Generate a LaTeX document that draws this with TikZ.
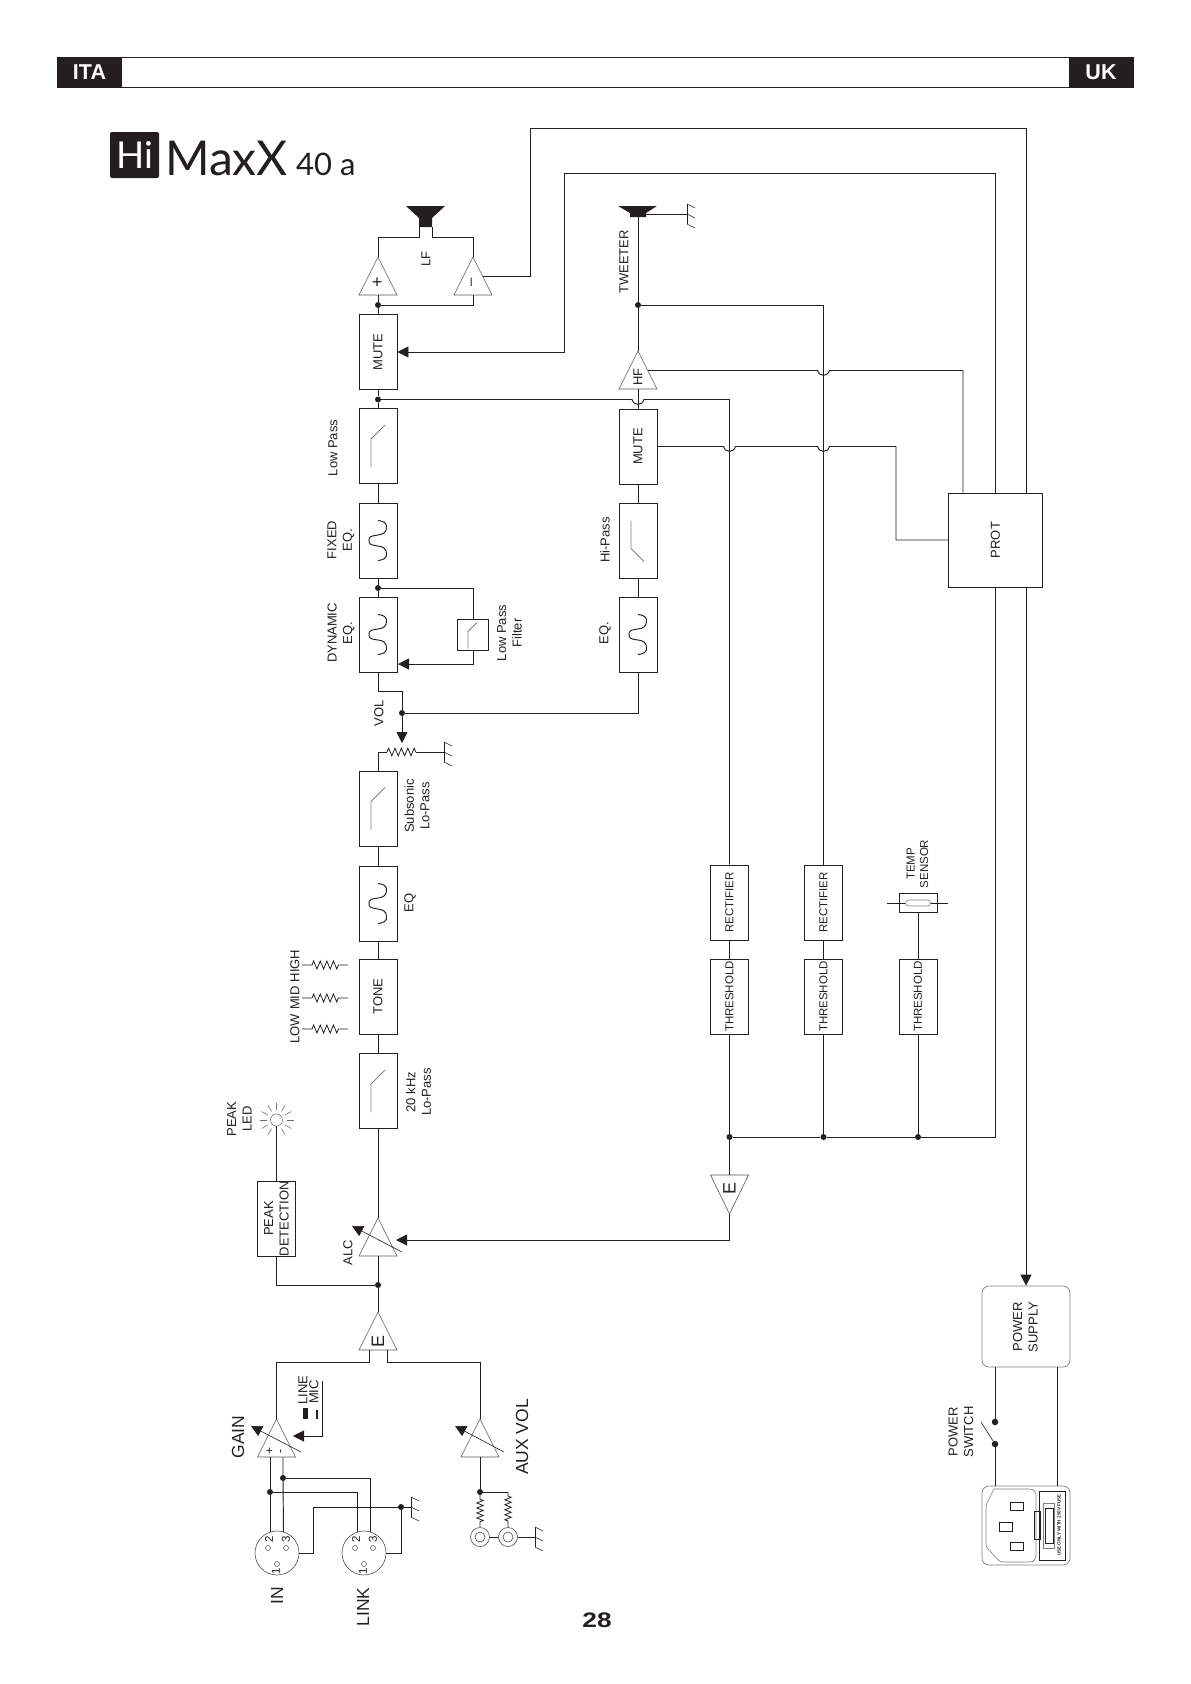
\documentclass[tikz,border=0pt]{standalone}
\usepackage{fontspec}
\setmainfont{Liberation Sans}
\newfontfamily\logofont{Lato}
\usetikzlibrary{arrows.meta,calc,decorations.pathmorphing}
\definecolor{ink}{HTML}{231F20}
\definecolor{soft}{HTML}{808080}
\tikzset{
  wire/.style={draw=ink,line width=.95pt},
  blk/.style={draw=ink,line width=.95pt,fill=white,inner sep=0pt,minimum width=38pt,minimum height=75pt},
  lbl/.style={rotate=90,align=center,inner sep=0pt,text=ink,font=\fontsize{13}{15.5}\selectfont},
  lbls/.style={lbl,font=\fontsize{11.5}{13.5}\selectfont},
  lblb/.style={lbl,font=\fontsize{17.5}{20}\selectfont},
  lblamp/.style={lbl,font=\fontsize{18}{18}\selectfont},
  tri/.style={draw=ink!75,line width=.6pt},
  sym/.style={draw=soft,line width=.8pt},
  slash/.style={draw=ink,line width=.6pt},
  arr/.style={-{Triangle[length=11pt,width=11pt]}},
  jdot/.style={circle,fill=ink,inner sep=0pt,minimum size=6pt},
  resist/.style={decorate,decoration={zigzag,segment length=6.4pt,amplitude=3.8pt}},
  resisttone/.style={decorate,decoration={zigzag,segment length=6.6pt,amplitude=4pt,pre length=10pt,post length=8pt}},
  resistaux/.style={decorate,decoration={zigzag,segment length=5pt,amplitude=3.2pt,pre length=4pt,post length=4pt}},
  pin/.style={circle,draw=ink!80,line width=.5pt,inner sep=0pt,minimum size=5pt},
  ring/.style={circle,draw=ink!80,line width=.6pt,inner sep=0pt}
}
% triangles: name, apex
\newcommand{\ampup}[2]{\coordinate (#1) at (#2); \coordinate (#1-base) at ($(#1)+(0,38)$);
  \draw[tri] (#1) -- ++(19,38) -- ++(-38,0) -- cycle;}
\newcommand{\ampdn}[2]{\coordinate (#1) at (#2); \coordinate (#1-base) at ($(#1)+(0,-39)$);
  \draw[tri] (#1) -- ++(19,-39) -- ++(-38,0) -- cycle;}
% filter marks inside a block
\newcommand{\lowmark}[1]{\draw[sym] ($(#1)+(-7,21)$) -- ($(#1)+(-7,-7)$) -- ($(#1)+(7,-21)$);}
\newcommand{\eqmark}[1]{\begin{scope}[shift={(#1.center)}]
  \draw[wire] plot[smooth,tension=.8] coordinates {(0,-20) (6.5,-18) (8.5,-13) (6,-7.5) (0,-5.5) (-7,-4) (-9,0) (-7,4) (0,5.5) (6,7.5) (8.5,13) (6.5,18) (0,20)};
\end{scope}}
\newcommand{\gnd}[2]{\coordinate (#1) at (#2); \draw[wire] ($(#1)+(0,-10)$) -- ($(#1)+(0,10)$);
  \foreach \d in {-10,0,10} \draw[slash] ($(#1)+(0,\d)$) -- ++(8,4);}
\newcommand{\xlr}[2]{\node[ring,minimum size=44pt] (#1) at (#2) {};
  \coordinate (#1-a) at ($(#1)+(-7,-21)$); \coordinate (#1-b) at ($(#1)+(6.5,-21)$);
  \node[pin] (#1-p2) at ($(#1)+(-9,-5)$) {}; \node[pin] (#1-p3) at ($(#1)+(9,-5)$) {}; \node[pin] (#1-p1) at ($(#1)+(0,11)$) {};
  \node[lbls] (#1-n2) at ($(#1)+(-8,-14)$) {2}; \node[lbls] (#1-n3) at ($(#1)+(9,-14)$) {3}; \node[lbls] (#1-n1) at ($(#1)+(-1,18)$) {1};}
\newcommand{\hop}[1]{-- ($(#1)+(-6,0)$) .. controls ($(#1)+(-4,6.5)$) and ($(#1)+(4,6.5)$) .. ($(#1)+(6,0)$)}
\begin{document}
\begin{tikzpicture}[x=1pt,y=-1pt]
    \useasboundingbox (0,0) rectangle (1191,1684);
    % Header
    \node[draw=ink,line width=1pt,minimum width=1076pt,minimum height=30pt,inner sep=0pt] (hdr) at (595.5,72) {};
    \node[fill=ink,text=white,minimum width=64pt,minimum height=31pt,inner sep=0pt,font=\fontsize{21.5}{21.5}\bfseries\selectfont] (ita) at (89.5,72.5) {ITA};
    \node[fill=ink,text=white,minimum width=64pt,minimum height=31pt,inner sep=0pt,font=\fontsize{21.5}{21.5}\bfseries\selectfont] (uk) at (1101,72.5) {UK};
    \node[font=\fontsize{21}{21}\bfseries\selectfont,text=ink,inner sep=0pt] (page) at (597,1620) {\scalebox{1.25}[1]{28}};
    % Logo
    \node[fill=ink,rounded corners=2pt,text=white,minimum width=49pt,minimum height=46pt,inner sep=0pt,font=\logofont\fontsize{37}{37}\selectfont] (hi) at (134.5,155) {Hi};
    \node[text=ink,inner sep=0pt,anchor=base west,font=\logofont\fontsize{48}{48}\selectfont] (maxx) at (165,175) {MaxX};
    \node[text=ink,inner sep=0pt,anchor=base west,font=\logofont\fontsize{31}{31}\selectfont] (model) at (296,175) {40 a};

    % Left chain blocks
    \node[blk] (mute) at (378,352) {}; \node[lbl] (tmute) at (mute) {MUTE};
    \node[blk] (lowpass) at (378,446) {}; \lowmark{lowpass}
    \node[blk] (fixedeq) at (378,540.5) {}; \eqmark{fixedeq}
    \node[blk] (dyneq) at (378,634.5) {}; \eqmark{dyneq}
    \node[blk] (subson) at (378,808.5) {}; \lowmark{subson}
    \node[blk] (eqa) at (378,903.5) {}; \eqmark{eqa}
    \node[blk] (tone) at (378,996.5) {}; \node[lbl] (ttone) at (tone) {TONE};
    \node[blk] (lopass) at (378,1091) {}; \lowmark{lopass}
    \node[blk,minimum width=31pt,minimum height=31pt] (dynlp) at (473,634.5) {};
    \draw[sym] ($(dynlp)+(-5,14)$) -- ($(dynlp)+(-5,-3)$) -- ($(dynlp)+(4,-12)$);
    % Right chain blocks
    \node[blk] (mutehf) at (638,446.5) {}; \node[lbl] (tmutehf) at (mutehf) {MUTE};
    \node[blk] (hipass) at (638,540.5) {};
    \draw[sym] ($(hipass)+(-7,-20)$) -- ($(hipass)+(-7,8)$) -- ($(hipass)+(6,21)$);
    \node[blk] (eqb) at (638,634.5) {}; \eqmark{eqb}
    % Protection chain blocks
    \foreach \nm/\xx in {a/729.5,b/823.5}{
      \node[blk] (rect\nm) at (\xx,902.5) {}; \node[lbls] (trect\nm) at (rect\nm) {RECTIFIER};
    }
    \foreach \nm/\xx in {a/729.5,b/823.5,c/918}{
      \node[blk] (thr\nm) at (\xx,996.5) {}; \node[lbls] (tthr\nm) at (thr\nm) {THRESHOLD};
    }
    \node[blk,minimum height=19pt] (temp) at (918,902.5) {};
    \node[circle,minimum size=1pt,inner sep=0pt] (templ) at (886,903) {}; \node[circle,minimum size=1pt,inner sep=0pt] (tempr) at (949,903) {};
    \draw[wire] (templ) -- (tempr);
    \node[draw=soft,fill=white,line width=.6pt,rounded corners=3pt,minimum width=25pt,minimum height=6pt,inner sep=0pt] (tempo) at (918,903) {};
    \node[blk,minimum height=75pt] (pk) at (276.5,1218.5) {};
    \node[lbl] (tpk) at (pk) {PEAK\\DETECTION};

    % Amplifier triangles
    \ampup{ampp}{378,257} \ampup{ampm}{473,257} \ampup{amphf}{638,351} \ampup{ampalc}{378,1218}
    \ampup{ampe}{378,1312} \ampup{ampgain}{276.5,1419} \ampup{ampaux}{480,1419} \ampdn{ampth}{729.5,1214}
    \node[lblamp] (tp) at (378,282) {+}; \node[lbl,font=\fontsize{15}{15}\selectfont] (tm) at (473,282) {–}; \node[lbl] (thf) at (638,377) {HF};
    \node[lblamp] (te) at (378,1341) {E}; \node[lblamp] (teb) at (729.5,1188) {E};
    \node[lbl,font=\fontsize{12}{12}\selectfont] (tgp) at (270,1451) {+}; \node[lbl,font=\fontsize{12}{12}\selectfont] (tgm) at (282,1451) {-};

    % Labels
    \node[lbl] (lbllf) at (426,259) {LF};
    \node[lbl] (lbltw) at (624,262) {TWEETER};
    \node[lbl] (lbllp) at (333,448) {Low Pass};
    \node[lbl] (lblfix) at (341,540) {FIXED\\EQ.};
    \node[lbl] (lbldyn) at (341,633) {DYNAMIC\\EQ.};
    \node[lbl] (lblflt) at (509.5,633) {Low Pass\\Filter};
    \node[lbl] (lblhi) at (605,540) {Hi-Pass};
    \node[lbl] (lbleqb) at (605,633) {EQ.};
    \node[lbl] (lblvol) at (379,713) {VOL};
    \node[lbl] (lblsub) at (417,806) {Subsonic\\Lo-Pass};
    \node[lbl] (lbleq) at (410,903) {EQ};
    \node[lbl] (lbl20k) at (418.5,1092) {20 kHz\\Lo-Pass};
    \node[lbl] (lblhigh) at (295,966) {HIGH}; \node[lbl] (lblmid) at (295,998) {MID}; \node[lbl] (lbllow) at (295,1029) {LOW};
    \node[lbl] (lblled) at (239.5,1119) {PEAK\\LED};
    \node[lbl] (lblalc) at (348,1253) {ALC};
    \node[lbls] (lbltemp) at (917.5,864) {TEMP\\SENSOR};
    \node[lbl] (lblline) at (303,1390) {LINE}; \node[lbl] (lblmic) at (314,1392) {MIC};
    \node[lblb] (lblgain) at (238,1437) {GAIN};
    \node[lblb] (lblin) at (277,1596) {IN};
    \node[lblb] (lbllink) at (363,1607) {LINK};
    \node[lblb] (lblaux) at (522,1437) {AUX VOL};
    \node[lbl] (lblsw) at (961,1432) {POWER\\SWITCH};

    % Speakers
    \fill[ink] (406,206) -- (445,206) -- (432,218) -- (432,227) -- (419,227) -- (419,218) -- cycle;
    \fill[ink] (618,206) -- (657,206) -- (646,213) -- (646,217) -- (630,217) -- (630,213) -- cycle;
    \coordinate (lfa) at (419,227); \coordinate (lfb) at (432,227);
    \coordinate (lfal) at (419,237); \coordinate (lfbl) at (432,237);
    \coordinate (twbot) at (638,217); \coordinate (twgnd) at (646,214);
    \gnd{gndtw}{687,214}
    \draw[wire] (twgnd) -- (gndtw);
    \draw[wire] (ampp) |- (lfal) -- (lfa);
    \draw[wire] (ampm) |- (lfbl) -- (lfb);
    \node[jdot] (jout) at (378,305) {};
    \draw[wire] (ampp-base) -- (jout) -- (mute.north);
    \draw[wire] (jout) -| (ampm-base);

    % Power supply, long line behind the protection block
    \node[draw=soft,fill=white,line width=.7pt,rounded corners=7pt,minimum width=88pt,minimum height=81pt,inner sep=0pt] (psu) at (1026,1326.5) {};
    \node[lbl] (lblpsu) at (1025.5,1327) {POWER\\SUPPLY};
    \coordinate (lfout) at (483,276); \coordinate (lfup) at (530,128); \coordinate (topa) at (1026,128);
    \draw[wire,arr] (lfout) -| (lfup) -- (topa) -- (psu.north);
    \node[blk,minimum width=94pt,minimum height=94pt] (prot) at (995.5,540) {}; \node[lbl] (tprot) at (prot) {PROT};
    \coordinate (mtop) at (564,173);
    \draw[wire,arr] (prot.north) |- (mtop) |- (mute.east);

    % Main signal path
    \node[jdot] (jmute) at (378,399.5) {};
    \node[jdot] (jfix) at (378,588) {};
    \node[jdot] (jvol) at (402,713) {};
    \coordinate (volbend) at (402,691); \coordinate (voltip) at (402,743); \coordinate (dynin) at (398,664);
    \draw[wire] (mute.south) -- (jmute) -- (lowpass.north);
    \draw[wire] (lowpass.south) -- (fixedeq.north);
    \draw[wire] (fixedeq.south) -- (jfix) -- (dyneq.north);
    \draw[wire] (jfix) -| (dynlp.north);
    \draw[wire,arr] (dynlp.south) |- (dynin);
    \draw[wire] (dyneq.south) |- (volbend) -- (jvol);
    \draw[wire,arr] (jvol) -- (voltip);
    \draw[wire] (jvol) -| (eqb.south);
    \coordinate (rva) at (387,752); \coordinate (rvb) at (416,752);
    \gnd{gndvol}{444,752}
    \draw[wire] (subson.north) |- (rva);
    \draw[wire,line width=.8pt,resist] (rva) -- (rvb);
    \draw[wire] (rvb) -- (gndvol);
    \draw[wire] (subson.south) -- (eqa.north);
    \draw[wire] (eqa.south) -- (tone.north);
    \draw[wire] (tone.south) -- (lopass.north);
    \draw[wire] (lopass.south) -- (ampalc);
    % Tone controls
    \foreach \nm/\yy in {high/965,mid/998,low/1029}{
      \coordinate (\nm a) at (302,\yy); \coordinate (\nm b) at (348,\yy);
      \draw[wire,line width=.8pt,resisttone] (\nm a) -- (\nm b);
    }
    % HF path
    \node[jdot] (jtw) at (638,305) {};
    \draw[wire] (twbot) -- (jtw) -- (amphf);
    \draw[wire] (amphf-base) -- (mutehf.north);
    \draw[wire] (mutehf.south) -- (hipass.north);
    \draw[wire] (hipass.south) -- (eqb.north);
    \coordinate (xa) at (729.5,399.5); \coordinate (xb) at (823.5,305);
    \coordinate (hopm) at (638,399.5); \coordinate (hopb) at (823.5,370.5); \coordinate (hopc) at (729.5,446.5); \coordinate (hopd) at (823.5,446.5);
    \coordinate (hfout) at (648,370.5); \coordinate (hfr) at (963,370.5); \coordinate (mtr) at (896,446.5); \coordinate (mtd) at (896,540);
    \draw[wire] (jmute) \hop{hopm} -- (xa) -- (recta.north);
    \draw[wire] (jtw) -| (rectb.north);
    \draw[wire] (hfout) \hop{hopb} -- (hfr) -- (hfr |- prot.north);
    \draw[wire] (mutehf.east) \hop{hopc} \hop{hopd} -- (mtr) -- (mtd) -- (prot.west);
    % Protection chain
    \draw[wire] (recta.south) -- (thra.north);
    \draw[wire] (rectb.south) -- (thrb.north);
    \draw[wire] (temp.south) -- (thrc.north);
    \node[jdot] (jtha) at (729.5,1137) {}; \node[jdot] (jthb) at (823.5,1137) {}; \node[jdot] (jthc) at (918,1137) {};
    \draw[wire] (thra.south) -- (jtha); \draw[wire] (thrb.south) -- (jthb); \draw[wire] (thrc.south) -- (jthc);
    \draw[wire] (prot.south) |- (jthc) -- (jthb) -- (jtha) -- (ampth-base);
    \coordinate (alcin) at (396,1240);
    \draw[wire,arr] (ampth) |- (alcin);
    \draw[slash,arr] (402,1252) -- (352,1226);

    % Peak detection
    \node[ring,draw=soft,minimum size=12pt] (led) at (276.5,1120) {};
    \foreach \a in {0,30,60,120,150,180,210,240,270,300,330} \draw[draw=ink!65,line width=.6pt] ($(led)+(\a:10)$) -- ($(led)+(\a:17)$);
    \draw[wire] (pk.north) -- (led.south);
    \node[jdot] (jpk) at (378,1285) {};
    \draw[wire] (ampalc-base) -- (jpk) -- (ampe);
    \draw[wire] (pk.south) |- (jpk);

    % Inputs
    \coordinate (ela) at (369,1350); \coordinate (elb) at (387,1350);
    \draw[wire] (ela) |- (ampgain |- 0,1362) -- (ampgain);
    \draw[wire] (elb) |- (ampaux |- 0,1362) -- (ampaux);
    \coordinate (sela) at (322,1381); \coordinate (selb) at (293,1436);
    \draw[wire,arr] (sela) |- (selb);
    \fill[ink] (303,1408) rectangle (307.5,1419); \fill[ink] (315.5,1410) rectangle (318,1419);
    \draw[slash,arr] (301,1452) -- (251,1426);
    \draw[slash,arr] (504,1452) -- (455,1426);
    \xlr{in}{277,1553} \xlr{link}{364,1553}
    \coordinate (gp) at (270,1457); \coordinate (gm) at (283,1457);
    \node[jdot] (jgm) at (283,1478) {}; \node[jdot] (jgp) at (270,1492) {};
    \draw[wire] (gp) -- (jgp) -- (in-a);
    \draw[wire] (gm) -- (jgm) -- (in-b);
    \draw[wire] (jgm) -| (link-b);
    \draw[wire] (jgp) -| (link-a);
    \coordinate (ingc) at (313,1507);
    \node[jdot] (jgnd) at (401,1507) {};
    \gnd{gndin}{411,1507}
    \draw[wire] (in.east) -| (ingc) -- (jgnd) -- (gndin);
    \draw[wire] (link.east) -| (jgnd);
    % Aux input
    \node[jdot] (jaux) at (480,1492) {};
    \draw[wire] (ampaux-base) -- (jaux);
    \node[ring,minimum size=19pt] (rcaa) at (480,1537) {}; \node[ring,minimum size=10pt] (rcaai) at (480,1537) {};
    \node[ring,minimum size=19pt] (rcab) at (508,1537) {}; \node[ring,minimum size=10pt] (rcabi) at (508,1537) {};
    \coordinate (auxt) at (508,1492);
    \gnd{gndaux}{535,1537}
    \draw[wire] (jaux) -- (auxt);
    \draw[wire,line width=.8pt,resistaux] (jaux) -- (rcaa.north);
    \draw[wire,line width=.8pt,resistaux] (auxt) -- (rcab.north);
    \draw[wire] (rcaa) -- (rcab) -- (gndaux);

    % Mains inlet
    \node[draw=soft,line width=.7pt,rounded corners=7pt,minimum width=88pt,minimum height=79pt,inner sep=0pt] (inlet) at (1026,1525.5) {};
    \node[jdot,minimum size=6.5pt] (swa) at (995,1422) {}; \node[jdot,minimum size=6.5pt] (swb) at (995,1444) {};
    \coordinate (swarm) at (981,1422); \coordinate (nl) at (1057,1367);
    \draw[wire] (psu.south -| swa) -- (swa);
    \draw[wire] (swb) -- (swb |- inlet.north);
    \draw[slash] (swb) -- (swarm);
    \draw[wire] (nl) -- (nl |- inlet.north);
    \draw[draw=soft,line width=.6pt,rounded corners=3pt] (994,1489) -- (1032,1489) -- (1036,1492) -- (1036,1559) -- (1032,1562) -- (1000,1562) -- (986,1547) -- (986,1505) -- (994,1489);
    \draw[wire] (1010,1502) rectangle (1023,1510); \draw[wire] (999,1522) rectangle (1012,1531); \draw[wire] (1010,1542) rectangle (1023,1550);
    \draw[wire] (1039,1491) rectangle (1065,1560);
    \draw[wire] (1034,1511) rectangle (1040,1539);
    \draw[sym] (1043,1503) rectangle (1054,1548);
    \draw[wire] (1045,1508) rectangle (1053,1543);
    \node[lbl,font=\fontsize{4.6}{5}\bfseries\selectfont] (fusetxt) at (1059,1525) {USE ONLY WITH 250V FUSE};
\end{tikzpicture}
\end{document}
